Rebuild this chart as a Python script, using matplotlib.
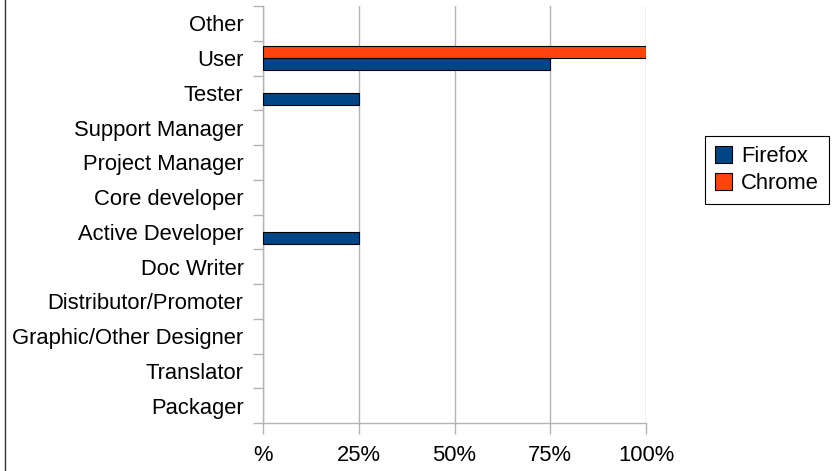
import matplotlib
matplotlib.use("Agg")
import matplotlib.pyplot as plt
import numpy as np
from matplotlib.lines import Line2D

plt.rcParams['font.family'] = ['Liberation Sans', 'DejaVu Sans']

categories = ["Other", "User", "Tester", "Support Manager", "Project Manager",
              "Core developer", "Active Developer", "Doc Writer",
              "Distributor/Promoter", "Graphic/Other Designer", "Translator", "Packager"]
firefox = [0, 75, 25, 0, 0, 0, 25, 0, 0, 0, 0, 0]
chrome = [0, 100, 0, 0, 0, 0, 0, 0, 0, 0, 0, 0]
xticks = [0, 25, 50, 75, 100]
xticklabels = ["%", "25%", "50%", "75%", "100%"]

W, H = 833, 471
fig = plt.figure(figsize=(W / 100, H / 100), dpi=100)
ax = fig.add_axes([263 / W, 1 - 423 / H, (646 - 263) / W, (423 - 6) / H])

grid_c = "#b3b3b3"
fs = 15.8
n = len(categories)
y = np.arange(n)
h = 0.35
lw_ff = [0.8 if v > 0 else 0 for v in firefox]
lw_ch = [0.8 if v > 0 else 0 for v in chrome]
ax.barh(y + h / 2, firefox, height=h, color="#004586", edgecolor="black", linewidth=lw_ff, label="Firefox", zorder=3)
ax.barh(y - h / 2, chrome, height=h, color="#ff420e", edgecolor="black", linewidth=lw_ch, label="Chrome", zorder=3)

ax.set_xlim(0, 100)
ax.set_ylim(n - 0.5, -0.5)

ax.set_xticks(xticks)
ax.set_xticklabels(xticklabels, fontsize=fs)
ax.tick_params(axis="x", length=8, color=grid_c, width=1, pad=8)

ax.set_yticks(np.arange(n + 1) - 0.5)
ax.set_yticklabels([])
ax.set_yticks(y, minor=True)
ax.set_yticklabels(categories, minor=True, fontsize=fs)
ax.tick_params(axis="y", which="major", length=7.5, color=grid_c, width=1)
ax.tick_params(axis="y", which="minor", length=0, pad=14)

ax.xaxis.grid(True, color=grid_c, linewidth=1, zorder=0)
ax.set_axisbelow(True)
for s in ["top", "right"]:
    ax.spines[s].set_visible(False)
for s in ["left", "bottom"]:
    ax.spines[s].set_color(grid_c)
    ax.spines[s].set_linewidth(1)

leg = fig.legend(loc="upper left", bbox_to_anchor=(705 / W, 1 - 136 / H),
                 bbox_transform=fig.transFigure, borderaxespad=0,
                 fontsize=fs, fancybox=False, edgecolor="black",
                 handlelength=0.8, handleheight=0.8, handletextpad=0.4,
                 borderpad=0.45, labelspacing=0.3, framealpha=1)
leg.get_frame().set_linewidth(0.8)
for p in leg.get_patches():
    p.set_linewidth(0.8)

fig.add_artist(Line2D([4.5 / W, 4.5 / W], [0, 1], transform=fig.transFigure, color="#333333", linewidth=1))

fig.savefig("out.png", dpi=100)
